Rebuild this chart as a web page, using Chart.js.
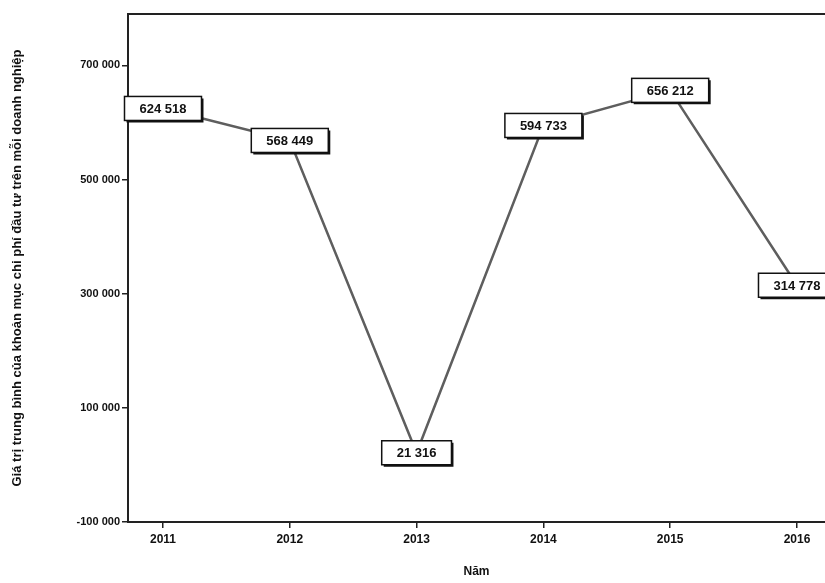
<!DOCTYPE html>
<html>
<head>
<meta charset="utf-8">
<script src="https://cdn.jsdelivr.net/npm/chart.js@4.4.1/dist/chart.umd.min.js"></script>
<style>
  html, body { margin: 0; padding: 0; background: #fff; }
  #wrap { width: 825px; height: 583px; }
</style>
</head>
<body>
<div id="wrap"><canvas id="c" width="825" height="583"></canvas></div>
<script>
// --- データ ---
const years = [2011, 2012, 2013, 2014, 2015, 2016];
const values = [624518, 568449, 21316, 594733, 656212, 314778];
const yTicks = [-100000, 100000, 300000, 500000, 700000];
const yTitle = 'Giá trị trung bình của khoản mục chi phí đầu tư trên mỗi doanh nghiệp';
const xTitle = 'Năm';

const FONT = '"Liberation Sans", Arial, sans-serif';
const fmtNum = v => (v < 0 ? '-' : '') + Math.abs(v).toString().replace(/\B(?=(\d{3})+(?!\d))/g, ' ');

// プロット枠（上・左・下）
const frame = {
  id: 'frame',
  beforeDatasetsDraw(chart) {
    const { ctx, chartArea: a } = chart;
    ctx.save();
    ctx.strokeStyle = '#222';
    ctx.lineWidth = 2;
    ctx.beginPath();
    ctx.moveTo(a.right, a.top);
    ctx.lineTo(a.left, a.top);
    ctx.lineTo(a.left, a.bottom);
    ctx.lineTo(a.right, a.bottom);
    ctx.stroke();
    ctx.restore();
  }
};

// データラベル（白い箱）
const boxLabels = {
  id: 'boxLabels',
  afterDatasetsDraw(chart) {
    const { ctx } = chart;
    const meta = chart.getDatasetMeta(0);
    ctx.save();
    ctx.font = 'bold 13px ' + FONT;
    ctx.textAlign = 'center';
    ctx.textBaseline = 'middle';
    meta.data.forEach((pt, i) => {
      const txt = fmtNum(values[i]);
      const w = ctx.measureText(txt).width + 30;
      const h = 24;
      const x = pt.x - w / 2, y = pt.y - h / 2;
      ctx.fillStyle = '#fff';
      ctx.fillRect(x, y, w, h);
      ctx.strokeStyle = '#111';
      ctx.lineWidth = 1.5;
      ctx.strokeRect(x, y, w, h);
      ctx.lineWidth = 2;
      ctx.beginPath();
      ctx.moveTo(x + 2, y + h + 1);
      ctx.lineTo(x + w + 1, y + h + 1);
      ctx.lineTo(x + w + 1, y + 2);
      ctx.stroke();
      ctx.fillStyle = '#111';
      ctx.fillText(txt, pt.x, pt.y + 1);
    });
    ctx.restore();
  }
};

new Chart(document.getElementById('c'), {
  type: 'line',
  data: {
    datasets: [{
      data: years.map((y, i) => ({ x: y, y: values[i] })),
      borderColor: '#5e5e5e',
      borderWidth: 2.5,
      pointRadius: 0,
      tension: 0
    }]
  },
  options: {
    responsive: false,
    animation: false,
    layout: { padding: { top: 14, right: 0, left: 0, bottom: 0 } },
    plugins: { legend: { display: false }, tooltip: { enabled: false } },
    scales: {
      x: {
        type: 'linear',
        min: 2010.724,
        max: 2016.221,
        afterBuildTicks: s => { s.ticks = years.map(v => ({ value: v })); },
        afterFit: s => { s.height = 61; },
        grid: { drawOnChartArea: false, drawTicks: true, tickLength: 6, color: '#222', lineWidth: 1.5 },
        border: { display: false },
        ticks: { color: '#111', font: { family: FONT, size: 12, weight: 'bold' }, padding: 4, callback: v => String(v) },
        title: { display: true, text: xTitle, color: '#111', font: { family: FONT, size: 12, weight: 'bold' }, padding: { top: 12 } }
      },
      y: {
        min: -100000,
        max: 790000,
        afterBuildTicks: s => { s.ticks = yTicks.map(v => ({ value: v })); },
        afterFit: s => { s.width = 128; },
        grid: { drawOnChartArea: false, drawTicks: true, tickLength: 6, color: '#222', lineWidth: 1.5 },
        border: { display: false },
        ticks: { color: '#111', font: { family: FONT, size: 11, weight: 'bold' }, padding: 2, callback: v => fmtNum(v) },
        title: { display: true, text: yTitle, color: '#111', font: { family: FONT, size: 13, weight: 'bold' }, padding: { top: 10, bottom: 0 } }
      }
    }
  },
  plugins: [frame, boxLabels]
});
</script>
</body>
</html>
